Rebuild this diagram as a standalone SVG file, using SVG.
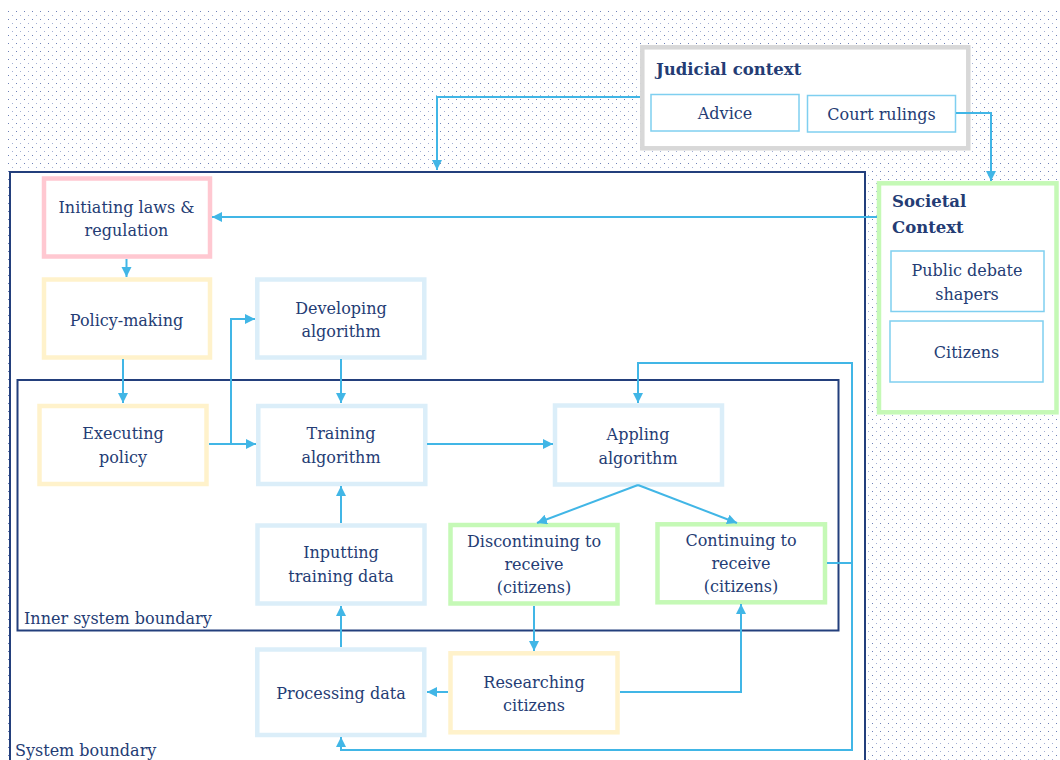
<svg xmlns="http://www.w3.org/2000/svg" width="1060" height="760" viewBox="0 0 1060 760">
  <defs>
    <pattern id="dots" width="8" height="8" patternUnits="userSpaceOnUse" x="8" y="11">
      <rect x="0" y="0" width="1" height="1" fill="#6f82b8"/>
      <rect x="4" y="4" width="1" height="1" fill="#a3b0d4"/>
    </pattern>
    <marker id="arrow" markerUnits="userSpaceOnUse" markerWidth="11" markerHeight="11" refX="10" refY="5" orient="auto">
      <path d="M0,0 L10,5 L0,10 z" fill="#41b6e6"/>
    </marker>
    <style>
      .lbl { font-family: "DejaVu Serif", "Liberation Serif", serif; font-size: 16px; fill: #243c74; }
      .c { text-anchor: middle; }
      .bold { font-weight: bold; font-size: 16.5px; }
      .node { fill: #ffffff; stroke-width: 4.5; }
      .pink { stroke: #ffc8d1; }
      .yellow { stroke: #fff2cb; }
      .blue { stroke: #dbeef9; }
      .green { stroke: #c5f9b6; }
      .sub { fill: #ffffff; stroke: #7fcff0; stroke-width: 1.5; }
      .bound { fill: none; stroke: #233f7c; stroke-width: 2; }
      .wire { fill: none; stroke: #41b6e6; stroke-width: 2; }
      .arr { marker-end: url(#arrow); }
    </style>
  </defs>

  <!-- dotted backdrop -->
  <rect x="8" y="10" width="1052" height="750" fill="#ffffff"/>
  <rect x="8" y="10" width="1052" height="750" fill="url(#dots)"/>

  <!-- system boundaries -->
  <g id="system-boundary">
    <rect x="10" y="172" width="855" height="600" fill="#ffffff" stroke="#233f7c" stroke-width="2"/>
    <text class="lbl" x="15" y="756">System boundary</text>
  </g>
  <g id="inner-system-boundary">
    <rect class="bound" x="17.5" y="380" width="821" height="250.5"/>
    <text class="lbl" x="24" y="624">Inner system boundary</text>
  </g>

  <!-- judicial context -->
  <g id="judicial-context">
    <rect x="642.3" y="47.3" width="326" height="101" fill="#ffffff" stroke="#d8d8d8" stroke-width="4.5"/>
    <text class="lbl bold" x="656" y="75">Judicial context</text>
  </g>
  <g id="advice">
    <rect class="sub" x="651" y="94.5" width="148" height="36.5"/>
    <text class="lbl c" x="725" y="119">Advice</text>
  </g>
  <g id="court-rulings">
    <rect class="sub" x="807.5" y="95.5" width="148" height="36.5"/>
    <text class="lbl c" x="881.5" y="120">Court rulings</text>
  </g>

  <!-- societal context -->
  <g id="societal-context">
    <rect x="879" y="183.3" width="177.5" height="229" fill="#ffffff" stroke="#c5f9b6" stroke-width="4.5"/>
    <text class="lbl bold" x="892" y="207">Societal</text>
    <text class="lbl bold" x="892" y="233">Context</text>
  </g>
  <g id="public-debate-shapers">
    <rect class="sub" x="891" y="251" width="153" height="60.5"/>
    <text class="lbl c" x="967" y="276">Public debate</text>
    <text class="lbl c" x="967" y="300">shapers</text>
  </g>
  <g id="citizens">
    <rect class="sub" x="890" y="321" width="153" height="61"/>
    <text class="lbl c" x="966.5" y="358">Citizens</text>
  </g>

  <!-- process nodes -->
  <g id="initiating-laws">
    <rect class="node pink" x="44" y="178.5" width="166" height="78"/>
    <text class="lbl c" x="126.5" y="213">Initiating laws &amp;</text>
    <text class="lbl c" x="126.5" y="236">regulation</text>
  </g>
  <g id="policy-making">
    <rect class="node yellow" x="44" y="279.5" width="166" height="78"/>
    <text class="lbl c" x="126.5" y="326">Policy-making</text>
  </g>
  <g id="developing-algorithm">
    <rect class="node blue" x="257.3" y="279.5" width="167" height="78"/>
    <text class="lbl c" x="341" y="314">Developing</text>
    <text class="lbl c" x="341" y="337">algorithm</text>
  </g>
  <g id="executing-policy">
    <rect class="node yellow" x="39.5" y="406" width="167" height="78"/>
    <text class="lbl c" x="123" y="439">Executing</text>
    <text class="lbl c" x="123" y="463">policy</text>
  </g>
  <g id="training-algorithm">
    <rect class="node blue" x="258.3" y="406" width="167" height="78"/>
    <text class="lbl c" x="341" y="439">Training</text>
    <text class="lbl c" x="341" y="463">algorithm</text>
  </g>
  <g id="inputting-training-data">
    <rect class="node blue" x="257.5" y="525.5" width="167" height="78"/>
    <text class="lbl c" x="341" y="558">Inputting</text>
    <text class="lbl c" x="341" y="582">training data</text>
  </g>
  <g id="appling-algorithm">
    <rect class="node blue" x="555" y="405.5" width="167" height="79"/>
    <text class="lbl c" x="638" y="440">Appling</text>
    <text class="lbl c" x="638" y="464">algorithm</text>
  </g>
  <g id="discontinuing-to-receive">
    <rect class="node green" x="450.5" y="525" width="167" height="78.5"/>
    <text class="lbl c" x="534" y="547">Discontinuing to</text>
    <text class="lbl c" x="534" y="570">receive</text>
    <text class="lbl c" x="534" y="593">(citizens)</text>
  </g>
  <g id="continuing-to-receive">
    <rect class="node green" x="657.5" y="524.3" width="167.5" height="78"/>
    <text class="lbl c" x="741" y="546">Continuing to</text>
    <text class="lbl c" x="741" y="569">receive</text>
    <text class="lbl c" x="741" y="592">(citizens)</text>
  </g>
  <g id="processing-data">
    <rect class="node blue" x="257.3" y="649.5" width="167" height="85.5"/>
    <text class="lbl c" x="341" y="699">Processing data</text>
  </g>
  <g id="researching-citizens">
    <rect class="node yellow" x="450.5" y="653.3" width="167" height="79"/>
    <text class="lbl c" x="534" y="688">Researching</text>
    <text class="lbl c" x="534" y="711">citizens</text>
  </g>

  <!-- connectors -->
  <g id="connectors">
    <path class="wire arr" d="M640,97 H437 V170"/>
    <path class="wire arr" d="M956,113 H991 V181"/>
    <path class="wire arr" d="M877,217 H212"/>
    <path class="wire arr" d="M126.5,259 V277"/>
    <path class="wire arr" d="M123,359 V403"/>
    <path class="wire arr" d="M209,444 H256"/>
    <path class="wire arr" d="M231,444 V319 H255"/>
    <path class="wire arr" d="M341,359 V403"/>
    <path class="wire arr" d="M427,444 H553"/>
    <path class="wire arr" d="M341,523 V486"/>
    <path class="wire arr" d="M341,647 V606"/>
    <path class="wire arr" d="M638,485 L537,523"/>
    <path class="wire arr" d="M638,485 L737,523"/>
    <path class="wire arr" d="M534,606 V651"/>
    <path class="wire arr" d="M448,692 H427"/>
    <path class="wire arr" d="M620,692 H741 V604"/>
    <path class="wire" d="M827,563 H852"/>
    <path class="wire arr" d="M852,563 V363 H638 V403"/>
    <path class="wire arr" d="M852,563 V750 H341 V737"/>
  </g>
</svg>
